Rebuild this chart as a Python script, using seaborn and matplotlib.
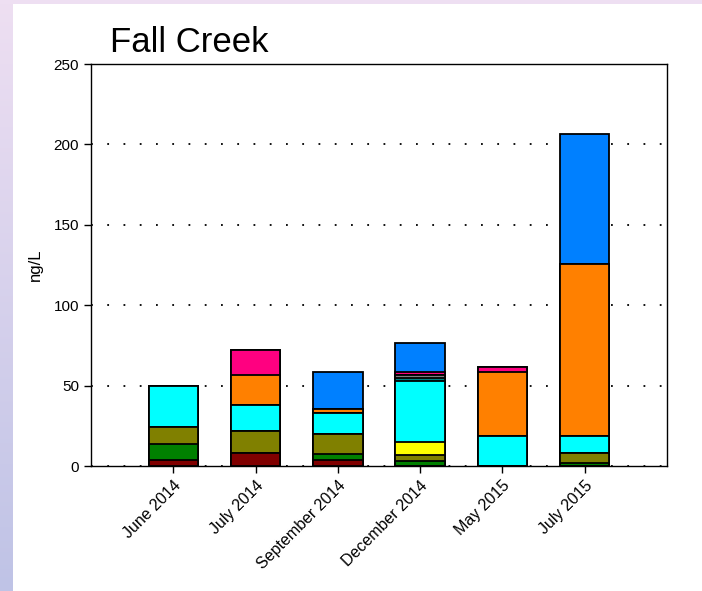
import numpy as np
import pandas as pd
import matplotlib
matplotlib.use("Agg")
import matplotlib.pyplot as plt
import seaborn as sns
from matplotlib.colors import LinearSegmentedColormap

categories = ["June 2014", "July 2014", "September 2014", "December 2014", "May 2015", "July 2015"]
series_names = ["s1", "s2", "s3", "s4", "s5", "s6", "s7", "s8", "s9", "s10"]
s1 = [3.5, 8.0, 3.7, 0.0, 0.0, 0.0]
s2 = [10.0, 0.0, 3.8, 3.1, 0.0, 2.1]
s3 = [10.5, 13.5, 12.4, 3.7, 0.0, 6.2]
s4 = [0.0, 0.0, 0.0, 8.3, 0.0, 0.0]
s5 = [26.0, 16.5, 13.3, 37.5, 18.7, 10.4]
s6 = [0.0, 0.0, 0.0, 2.2, 0.0, 0.0]
s7 = [0.0, 0.0, 0.0, 1.9, 0.0, 0.0]
s8 = [0.0, 18.5, 2.5, 0.0, 39.6, 106.9]
s9 = [0.0, 15.5, 0.0, 1.9, 3.3, 0.0]
s10 = [0.0, 0.0, 22.6, 17.7, 0.0, 80.9]
series_values = [s1, s2, s3, s4, s5, s6, s7, s8, s9, s10]
colors = ["#800000", "#008000", "#808000", "#FFFF00", "#00FFFF",
          "#008080", "#808080", "#FF8000", "#FF0080", "#0080FF"]
yticks = [0, 50, 100, 150, 200, 250]

sns.set_theme(style="white")
plt.rcParams["font.family"] = ["Liberation Sans", "DejaVu Sans"]
plt.rcParams["text.color"] = "black"
plt.rcParams["axes.labelcolor"] = "black"
plt.rcParams["xtick.color"] = "black"
plt.rcParams["ytick.color"] = "black"

W, H = 702, 591
fig = plt.figure(figsize=(W / 100, H / 100), dpi=100)
fig.patch.set_facecolor("white")

# decorative frame strips
axl = fig.add_axes([0, 0, 13 / W, 1])
grad = np.linspace(0, 1, 256).reshape(-1, 1)
cm = LinearSegmentedColormap.from_list("g", ["#BFC3E6", "#EEDFF2"])
axl.imshow(grad, aspect="auto", cmap=cm, origin="lower", extent=[0, 1, 0, 1])
axl.axis("off")
axt = fig.add_axes([0, 1 - 4 / H, 1, 4 / H])
axt.set_facecolor("#EEDFF2")
axt.set_xticks([]); axt.set_yticks([])
for s in axt.spines.values():
    s.set_visible(False)

ax = fig.add_axes([91 / W, 1 - 466 / H, (667 - 91) / W, (466 - 64) / H])

cum = np.cumsum(np.array(series_values), axis=0)
for i in range(len(series_names) - 1, -1, -1):
    d = pd.DataFrame({"category": categories, "value": cum[i]})
    sns.barplot(data=d, x="category", y="value", order=categories, color=colors[i],
                saturation=1, width=0.6, edgecolor="black", linewidth=1.3, ax=ax, zorder=3)

ax.set_xlim(-1.0, 6.0)
ax.set_ylim(0, 250)
ax.set_yticks(yticks)
ax.set_yticklabels([str(v) for v in yticks], fontsize=11)
ax.set_xticks(range(len(categories)))
ax.set_xticklabels(categories, rotation=45, ha="right", rotation_mode="anchor", fontsize=11.5)
ax.tick_params(axis="both", direction="out", length=5, width=1, color="black", bottom=True, left=True)
ax.set_xlabel("")
ax.set_ylabel("ng/L", fontsize=12, labelpad=8)
for s in ax.spines.values():
    s.set_visible(True)
    s.set_color("black")
    s.set_linewidth(1.0)
ax.yaxis.grid(True, linestyle=(0, (1, 8)), color="black", linewidth=1.3)
ax.xaxis.grid(False)
ax.set_axisbelow(True)

fig.text(110 / W, 1 - 52 / H, "Fall Creek", fontsize=25, color="black",
         family=["Liberation Sans Narrow", "Liberation Sans", "DejaVu Sans"], va="baseline")

fig.savefig("out.png", dpi=100, facecolor="white")
